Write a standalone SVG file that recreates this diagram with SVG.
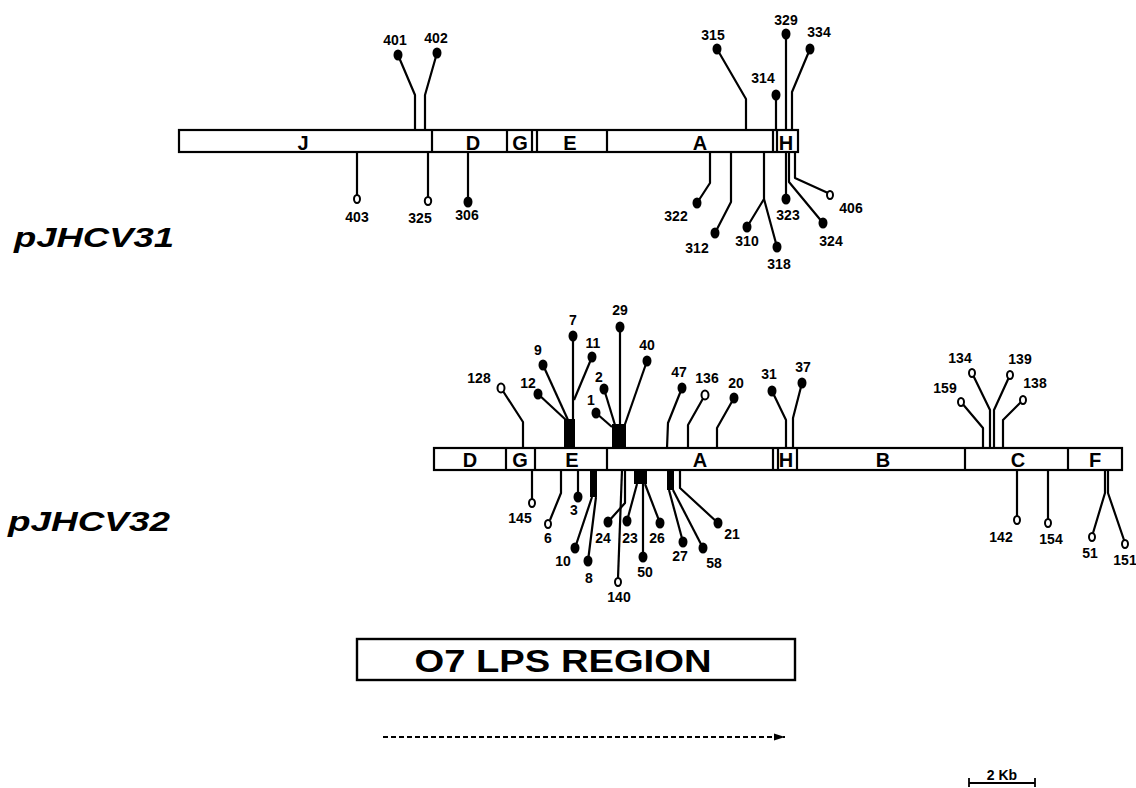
<svg xmlns="http://www.w3.org/2000/svg" width="1136" height="788" viewBox="0 0 1136 788">
<style>
.bar{fill:#fff;stroke:#000;stroke-width:2.2}
.div{stroke:#000;stroke-width:2.2}
.seg{font-family:"Liberation Sans",Arial,sans-serif;font-weight:bold;font-size:20px;text-anchor:middle;fill:#000}
.num{font-family:"Liberation Sans",Arial,sans-serif;font-weight:bold;font-size:14px;text-anchor:middle;fill:#000}
.stem{fill:none;stroke:#000;stroke-width:2.2;stroke-linejoin:round}
.dot{fill:#000}
.open{fill:#fff;stroke:#000;stroke-width:2}
.title{font-family:"Liberation Sans",Arial,sans-serif;font-weight:bold;font-style:italic;font-size:27px;fill:#000}
</style>
<defs>
<marker id="arr" markerWidth="12" markerHeight="8" refX="11" refY="4" orient="auto" markerUnits="userSpaceOnUse">
<path d="M0,0.5 L11,4 L0,7.5 Z" fill="#000"/>
</marker>
</defs>
<rect width="1136" height="788" fill="#fff"/>

<!-- pJHCV31 map -->
<g id="map31">
<rect class="bar" x="179" y="130" width="619" height="22"/>
<line class="div" x1="432" y1="130" x2="432" y2="152"/>
<line class="div" x1="507" y1="130" x2="507" y2="152"/>
<line class="div" x1="532" y1="130" x2="532" y2="152"/>
<line class="div" x1="537" y1="130" x2="537" y2="152"/>
<line class="div" x1="607" y1="130" x2="607" y2="152"/>
<line class="div" x1="773" y1="130" x2="773" y2="152"/>
<line class="div" x1="777" y1="130" x2="777" y2="152"/>
<text class="seg" x="303" y="150">J</text>
<text class="seg" x="473" y="150">D</text>
<text class="seg" x="520" y="150">G</text>
<text class="seg" x="570" y="150">E</text>
<text class="seg" x="700" y="150">A</text>
<text class="seg" x="786" y="150">H</text>
</g>
<text class="title" x="14" y="247" textLength="160" lengthAdjust="spacingAndGlyphs">pJHCV31</text>

<!-- pJHCV32 map -->
<g id="map32">
<rect class="bar" x="434" y="448" width="688" height="22"/>
<line class="div" x1="506" y1="448" x2="506" y2="470"/>
<line class="div" x1="535" y1="448" x2="535" y2="470"/>
<line class="div" x1="607" y1="448" x2="607" y2="470"/>
<line class="div" x1="773" y1="448" x2="773" y2="470"/>
<line class="div" x1="778" y1="448" x2="778" y2="470"/>
<line class="div" x1="797" y1="448" x2="797" y2="470"/>
<line class="div" x1="965" y1="448" x2="965" y2="470"/>
<line class="div" x1="1068" y1="448" x2="1068" y2="470"/>
<text class="seg" x="470" y="467">D</text>
<text class="seg" x="520" y="467">G</text>
<text class="seg" x="572" y="467">E</text>
<text class="seg" x="700" y="467">A</text>
<text class="seg" x="786" y="467">H</text>
<text class="seg" x="883" y="467">B</text>
<text class="seg" x="1018" y="467">C</text>
<text class="seg" x="1095" y="467">F</text>
</g>
<text class="title" x="8" y="531" textLength="162" lengthAdjust="spacingAndGlyphs">pJHCV32</text>

<!-- connectors (stems) -->
<g id="connectors">
<!-- pJHCV31 top -->
<polyline class="stem" points="398,55 415,95 415,130"/>
<polyline class="stem" points="437,53 425,95 425,130"/>
<polyline class="stem" points="717,49 746,99 746,130"/>
<polyline class="stem" points="776,95 776,130"/>
<polyline class="stem" points="786,34 786,130"/>
<polyline class="stem" points="810,49 792,92 792,130"/>
<!-- pJHCV31 bottom -->
<polyline class="stem" points="357,152 357,196"/>
<polyline class="stem" points="428,152 428,199"/>
<polyline class="stem" points="468,152 468,200"/>
<polyline class="stem" points="710,152 710,183 697,203"/>
<polyline class="stem" points="731,152 731,202 715,233"/>
<polyline class="stem" points="764,152 764,199 747,227"/>
<polyline class="stem" points="764,199 777,247"/>
<polyline class="stem" points="786,152 786,199"/>
<polyline class="stem" points="789,152 789,182 823,223"/>
<polyline class="stem" points="795,152 795,178 828,193"/>
<!-- pJHCV32 top -->
<polyline class="stem" points="501,388 523,422 523,448"/>
<polyline class="stem" points="538,394 566,420"/>
<polyline class="stem" points="543,365 568,420"/>
<polyline class="stem" points="573,336 573,448"/>
<polyline class="stem" points="592,357 574,400"/>
<rect x="564" y="419" width="11" height="29" fill="#000"/>
<polyline class="stem" points="604,389 615,425"/>
<polyline class="stem" points="596,413 612,427"/>
<polyline class="stem" points="620,327 620,448"/>
<polyline class="stem" points="647,361 624,427"/>
<rect x="612" y="424" width="14" height="24" fill="#000"/>
<polyline class="stem" points="682,388 668,423 667,448"/>
<polyline class="stem" points="705,395 688,425 688,448"/>
<polyline class="stem" points="734,398 717,428 717,448"/>
<polyline class="stem" points="772,391 786,420 786,448"/>
<polyline class="stem" points="802,383 793,418 793,448"/>
<polyline class="stem" points="961,402 983,428 983,448"/>
<polyline class="stem" points="972,373 990,410 990,448"/>
<polyline class="stem" points="1010,375 994,410 994,448"/>
<polyline class="stem" points="1023,400 1003,420 1003,448"/>
<!-- pJHCV32 bottom -->
<polyline class="stem" points="532,470 532,499"/>
<polyline class="stem" points="561,470 561,493 550,520"/>
<polyline class="stem" points="578,470 578,497"/>
<rect x="590" y="470" width="7" height="27" fill="#000"/>
<polyline class="stem" points="592,497 575,548"/>
<polyline class="stem" points="596,497 588,561"/>
<polyline class="stem" points="622,470 618,578"/>
<polyline class="stem" points="625,470 625,503 608,522"/>
<rect x="634" y="470" width="13" height="14" fill="#000"/>
<polyline class="stem" points="637,484 627,521"/>
<polyline class="stem" points="643,470 643,557"/>
<polyline class="stem" points="645,484 660,523"/>
<rect x="667" y="470" width="7" height="20" fill="#000"/>
<polyline class="stem" points="669,490 683,542"/>
<polyline class="stem" points="673,490 703,548"/>
<polyline class="stem" points="680,470 680,488 718,523"/>
<polyline class="stem" points="1017,470 1017,516"/>
<polyline class="stem" points="1048,470 1048,519"/>
<polyline class="stem" points="1105,470 1105,493 1093,533"/>
<polyline class="stem" points="1108,470 1108,493 1124,540"/>
</g>

<!-- markers pJHCV31 -->
<g id="m401"><ellipse class="dot" cx="398" cy="55" rx="4.5" ry="5.5"/><text class="num" x="395" y="45">401</text></g>
<g id="m402"><ellipse class="dot" cx="437" cy="53" rx="4.5" ry="5.5"/><text class="num" x="436" y="43">402</text></g>
<g id="m315"><ellipse class="dot" cx="717" cy="49" rx="4.5" ry="5.5"/><text class="num" x="713" y="40">315</text></g>
<g id="m329"><ellipse class="dot" cx="786" cy="34" rx="4.5" ry="5.5"/><text class="num" x="786" y="25">329</text></g>
<g id="m334"><ellipse class="dot" cx="810" cy="49" rx="4.5" ry="5.5"/><text class="num" x="819" y="37">334</text></g>
<g id="m314"><ellipse class="dot" cx="776" cy="95" rx="4.5" ry="5.5"/><text class="num" x="763" y="83">314</text></g>
<g id="m403"><ellipse class="open" cx="357" cy="199" rx="3" ry="4"/><text class="num" x="357" y="222">403</text></g>
<g id="m325"><ellipse class="open" cx="428" cy="201" rx="3.2" ry="4" stroke-width="2.6"/><text class="num" x="420" y="223">325</text></g>
<g id="m306"><ellipse class="dot" cx="468" cy="202" rx="4.5" ry="5.5"/><text class="num" x="467" y="220">306</text></g>
<g id="m322"><ellipse class="dot" cx="697" cy="203" rx="4.5" ry="5.5"/><text class="num" x="676" y="221">322</text></g>
<g id="m312"><ellipse class="dot" cx="715" cy="233" rx="4.5" ry="5.5"/><text class="num" x="697" y="253">312</text></g>
<g id="m310"><ellipse class="dot" cx="747" cy="227" rx="4.5" ry="5.5"/><text class="num" x="747" y="246">310</text></g>
<g id="m318"><ellipse class="dot" cx="777" cy="247" rx="4.5" ry="5.5"/><text class="num" x="779" y="269">318</text></g>
<g id="m323"><ellipse class="dot" cx="786" cy="199" rx="4.5" ry="5.5"/><text class="num" x="788" y="220">323</text></g>
<g id="m324"><ellipse class="dot" cx="823" cy="223" rx="4.5" ry="5.5"/><text class="num" x="831" y="246">324</text></g>
<g id="m406"><ellipse class="open" cx="830" cy="195" rx="3" ry="4"/><text class="num" x="851" y="213">406</text></g>

<!-- markers pJHCV32 top -->
<g id="m128"><ellipse class="open" cx="501" cy="388" rx="3.5" ry="4.5" stroke-width="2.8"/><text class="num" x="479" y="383">128</text></g>
<g id="m12"><ellipse class="dot" cx="538" cy="394" rx="4.5" ry="5.5"/><text class="num" x="528" y="388">12</text></g>
<g id="m9"><ellipse class="dot" cx="543" cy="365" rx="4.5" ry="5.5"/><text class="num" x="538" y="355">9</text></g>
<g id="m7"><ellipse class="dot" cx="573" cy="336" rx="4.5" ry="5.5"/><text class="num" x="573" y="325">7</text></g>
<g id="m11"><ellipse class="dot" cx="592" cy="357" rx="4.5" ry="5.5"/><text class="num" x="593" y="348">11</text></g>
<g id="m2"><ellipse class="dot" cx="604" cy="389" rx="4.5" ry="5.5"/><text class="num" x="599" y="382">2</text></g>
<g id="m1"><ellipse class="dot" cx="596" cy="413" rx="4.5" ry="5.5"/><text class="num" x="591" y="405">1</text></g>
<g id="m29"><ellipse class="dot" cx="620" cy="327" rx="4.5" ry="5.5"/><text class="num" x="620" y="315">29</text></g>
<g id="m40"><ellipse class="dot" cx="647" cy="361" rx="4.5" ry="5.5"/><text class="num" x="647" y="350">40</text></g>
<g id="m47"><ellipse class="dot" cx="682" cy="388" rx="4.5" ry="5.5"/><text class="num" x="679" y="377">47</text></g>
<g id="m136"><ellipse class="open" cx="705" cy="395" rx="3.5" ry="4.5" stroke-width="2.8"/><text class="num" x="707" y="383">136</text></g>
<g id="m20"><ellipse class="dot" cx="734" cy="398" rx="4.5" ry="5.5"/><text class="num" x="736" y="388">20</text></g>
<g id="m31"><ellipse class="dot" cx="772" cy="391" rx="4.5" ry="5.5"/><text class="num" x="769" y="379">31</text></g>
<g id="m37"><ellipse class="dot" cx="802" cy="383" rx="4.5" ry="5.5"/><text class="num" x="803" y="372">37</text></g>
<g id="m159"><ellipse class="open" cx="961" cy="402" rx="3" ry="4"/><text class="num" x="945" y="393">159</text></g>
<g id="m134"><ellipse class="open" cx="972" cy="373" rx="3" ry="4"/><text class="num" x="960" y="363">134</text></g>
<g id="m139"><ellipse class="open" cx="1010" cy="375" rx="3" ry="4"/><text class="num" x="1020" y="364">139</text></g>
<g id="m138"><ellipse class="open" cx="1023" cy="400" rx="3" ry="4"/><text class="num" x="1035" y="388">138</text></g>

<!-- markers pJHCV32 bottom -->
<g id="m145"><ellipse class="open" cx="532" cy="503" rx="3" ry="4"/><text class="num" x="520" y="523">145</text></g>
<g id="m6"><ellipse class="open" cx="548" cy="524" rx="3" ry="4"/><text class="num" x="548" y="543">6</text></g>
<g id="m3"><ellipse class="dot" cx="578" cy="497" rx="4.5" ry="5.5"/><text class="num" x="574" y="515">3</text></g>
<g id="m10"><ellipse class="dot" cx="575" cy="548" rx="4.5" ry="5.5"/><text class="num" x="563" y="566">10</text></g>
<g id="m8"><ellipse class="dot" cx="588" cy="561" rx="4.5" ry="5.5"/><text class="num" x="589" y="583">8</text></g>
<g id="m140"><ellipse class="open" cx="618" cy="582" rx="3" ry="4"/><text class="num" x="619" y="602">140</text></g>
<g id="m24"><ellipse class="dot" cx="608" cy="522" rx="4.5" ry="5.5"/><text class="num" x="603" y="543">24</text></g>
<g id="m23"><ellipse class="dot" cx="627" cy="521" rx="4.5" ry="5.5"/><text class="num" x="630" y="543">23</text></g>
<g id="m50"><ellipse class="dot" cx="643" cy="557" rx="4.5" ry="5.5"/><text class="num" x="645" y="577">50</text></g>
<g id="m26"><ellipse class="dot" cx="660" cy="523" rx="4.5" ry="5.5"/><text class="num" x="657" y="543">26</text></g>
<g id="m27"><ellipse class="dot" cx="683" cy="542" rx="4.5" ry="5.5"/><text class="num" x="680" y="561">27</text></g>
<g id="m58"><ellipse class="dot" cx="703" cy="548" rx="4.5" ry="5.5"/><text class="num" x="714" y="568">58</text></g>
<g id="m21"><ellipse class="dot" cx="718" cy="523" rx="4.5" ry="5.5"/><text class="num" x="732" y="539">21</text></g>
<g id="m142"><ellipse class="open" cx="1017" cy="520" rx="3" ry="4"/><text class="num" x="1001" y="542">142</text></g>
<g id="m154"><ellipse class="open" cx="1048" cy="523" rx="3" ry="4"/><text class="num" x="1051" y="544">154</text></g>
<g id="m51"><ellipse class="open" cx="1092" cy="537" rx="3" ry="4"/><text class="num" x="1090" y="558">51</text></g>
<g id="m151"><ellipse class="open" cx="1125" cy="544" rx="3" ry="4"/><text class="num" x="1125" y="565">151</text></g>

<!-- O7 LPS region -->
<g id="lps">
<rect x="357" y="639" width="438" height="41" fill="#fff" stroke="#000" stroke-width="2.4"/>
<text x="563" y="672" font-family="'Liberation Sans',Arial,sans-serif" font-weight="bold" font-size="31" text-anchor="middle" textLength="297" lengthAdjust="spacingAndGlyphs">O7 LPS REGION</text>
</g>
<g id="arrow">
<line x1="383" y1="737" x2="785" y2="737" stroke="#000" stroke-width="1.8" stroke-dasharray="5,3" marker-end="url(#arr)"/>
</g>

<!-- scale bar -->
<g id="scale">
<line x1="969" y1="783" x2="1035" y2="783" stroke="#000" stroke-width="1.8"/>
<line x1="969" y1="778" x2="969" y2="787" stroke="#000" stroke-width="1.8"/>
<line x1="1035" y1="778" x2="1035" y2="787" stroke="#000" stroke-width="1.8"/>
<text class="num" x="1002" y="780">2 Kb</text>
</g>
</svg>
